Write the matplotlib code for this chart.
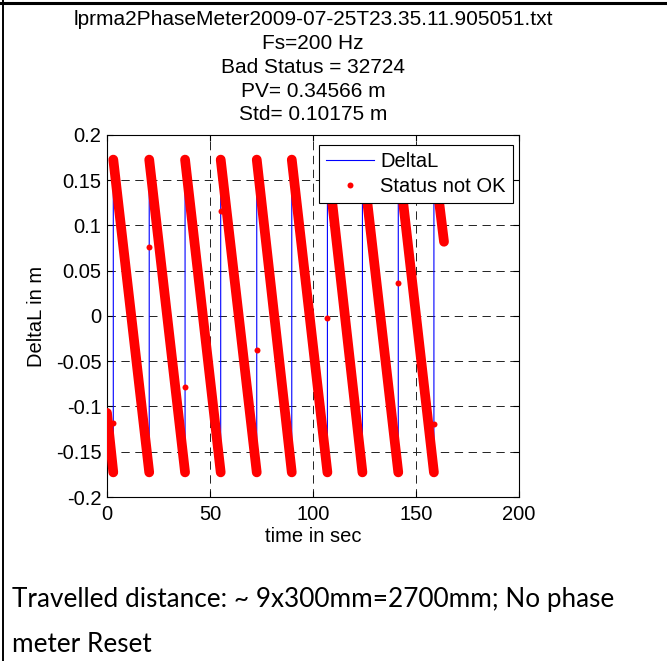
import matplotlib.pyplot as plt
from matplotlib.lines import Line2D
from matplotlib.ticker import FormatStrFormatter

# ramps of the phase meter trace (start/end of each linear segment)
ramp_start_t = [0.0, 3.06, 20.5, 37.9, 55.2, 72.7, 89.7, 107.0, 124.0, 141.4, 158.7]
ramp_start_v = [-0.107, 0.1728, 0.1728, 0.1728, 0.1728, 0.1728, 0.1728, 0.1728, 0.1728, 0.1728, 0.1728]
ramp_end_t = [3.06, 20.5, 37.9, 55.2, 72.7, 89.7, 107.0, 124.0, 141.4, 158.7, 163.6]
ramp_end_v = [-0.1728, -0.1728, -0.1728, -0.1728, -0.1728, -0.1728, -0.1728, -0.1728, -0.1728, -0.1728, 0.082]

# single samples caught in the middle of each phase wrap
jump_t = [3.06, 20.5, 37.9, 55.2, 72.7, 89.7, 107.0, 124.0, 141.4, 158.7]
jump_v = [-0.118, 0.076, -0.079, 0.116, -0.038, 0.152, -0.002, 0.18, 0.036, -0.119]

xticks = [0, 50, 100, 150, 200]
yticks = [-0.2, -0.15, -0.1, -0.05, 0, 0.05, 0.1, 0.15, 0.2]

title_lines = ['lprma2PhaseMeter2009-07-25T23.35.11.905051.txt',
               'Fs=200 Hz', 'Bad Status = 32724', 'PV= 0.34566 m', 'Std= 0.10175 m']
caption = 'Travelled distance: ~ 9x300mm=2700mm; No phase\nmeter Reset'

plt.rcParams['font.family'] = ['Liberation Sans', 'DejaVu Sans']
plt.rcParams['axes.unicode_minus'] = False
plt.rcParams['lines.scale_dashes'] = False

fig = plt.figure(figsize=(6.67, 6.61), dpi=100)
ax = fig.add_axes([0.1604, 0.2481, 0.6177, 0.5477])

# full DeltaL trace: ramp, wrap sample, next ramp ...
trace_t, trace_v = [], []
for i in range(len(ramp_start_t)):
    trace_t += [ramp_start_t[i], ramp_end_t[i]]
    trace_v += [ramp_start_v[i], ramp_end_v[i]]
    if i < len(jump_t):
        trace_t.append(jump_t[i])
        trace_v.append(jump_v[i])
ax.plot(trace_t, trace_v, color='#0000ff', lw=0.8, zorder=2)

# bad-status samples are dense enough to look like a thick band
for i in range(len(ramp_start_t)):
    ax.plot([ramp_start_t[i], ramp_end_t[i]], [ramp_start_v[i], ramp_end_v[i]],
            color='red', lw=7.0, solid_capstyle='round', zorder=3)
ax.plot(jump_t, jump_v, 'o', color='red', ms=4.3, mew=0, zorder=4)

ax.set_xlim(0, 200)
ax.set_ylim(-0.2, 0.2)
ax.set_xticks(xticks)
ax.set_yticks(yticks)
ax.yaxis.set_major_formatter(FormatStrFormatter('%g'))
ax.tick_params(direction='in', length=4, labelsize=14.5, top=True, right=True)
ax.tick_params(axis='y', pad=4)
ax.tick_params(axis='x', pad=6)
ax.grid(True, color='#222222', lw=0.7, ls=(0, (6, 4)))
ax.set_axisbelow(True)
for s in ax.spines.values():
    s.set_linewidth(0.8)

ax.set_xlabel('time in sec', fontsize=14.5)
ax.set_ylabel('DeltaL in m', fontsize=14.5)
ax.xaxis.set_label_coords(0.5, -0.083)
ax.yaxis.set_label_coords(-0.148, 0.5)

ax.set_title('\n'.join(title_lines), fontsize=15, linespacing=1.32, pad=10.5)

handles = [Line2D([], [], color='#0000ff', lw=0.8),
           Line2D([], [], ls='none', marker='o', color='red', ms=4.3, mew=0)]
leg = ax.legend(handles, ['DeltaL', 'Status not OK'], loc='upper right',
                bbox_to_anchor=(0.9854, 0.9724), borderaxespad=0,
                fontsize=14.5, fancybox=False, framealpha=1, edgecolor='black',
                handlelength=2.4, handletextpad=0.3, borderpad=0.35,
                labelspacing=0.3)
leg.get_frame().set_linewidth(0.8)

fig.text(12 / 667, 1 - 622 / 661, caption, fontsize=18.8, family=['Lato', 'DejaVu Sans'],
         va='center', ha='left', linespacing=2.0)

# cell border around the figure
fig.add_artist(Line2D([0, 666 / 667], [1 - 2.5 / 661, 1 - 2.5 / 661], color='black', lw=2.2))
fig.add_artist(Line2D([3 / 667, 3 / 667], [0, 1], color='black', lw=1.4))

fig.savefig('out.png', dpi=100)
